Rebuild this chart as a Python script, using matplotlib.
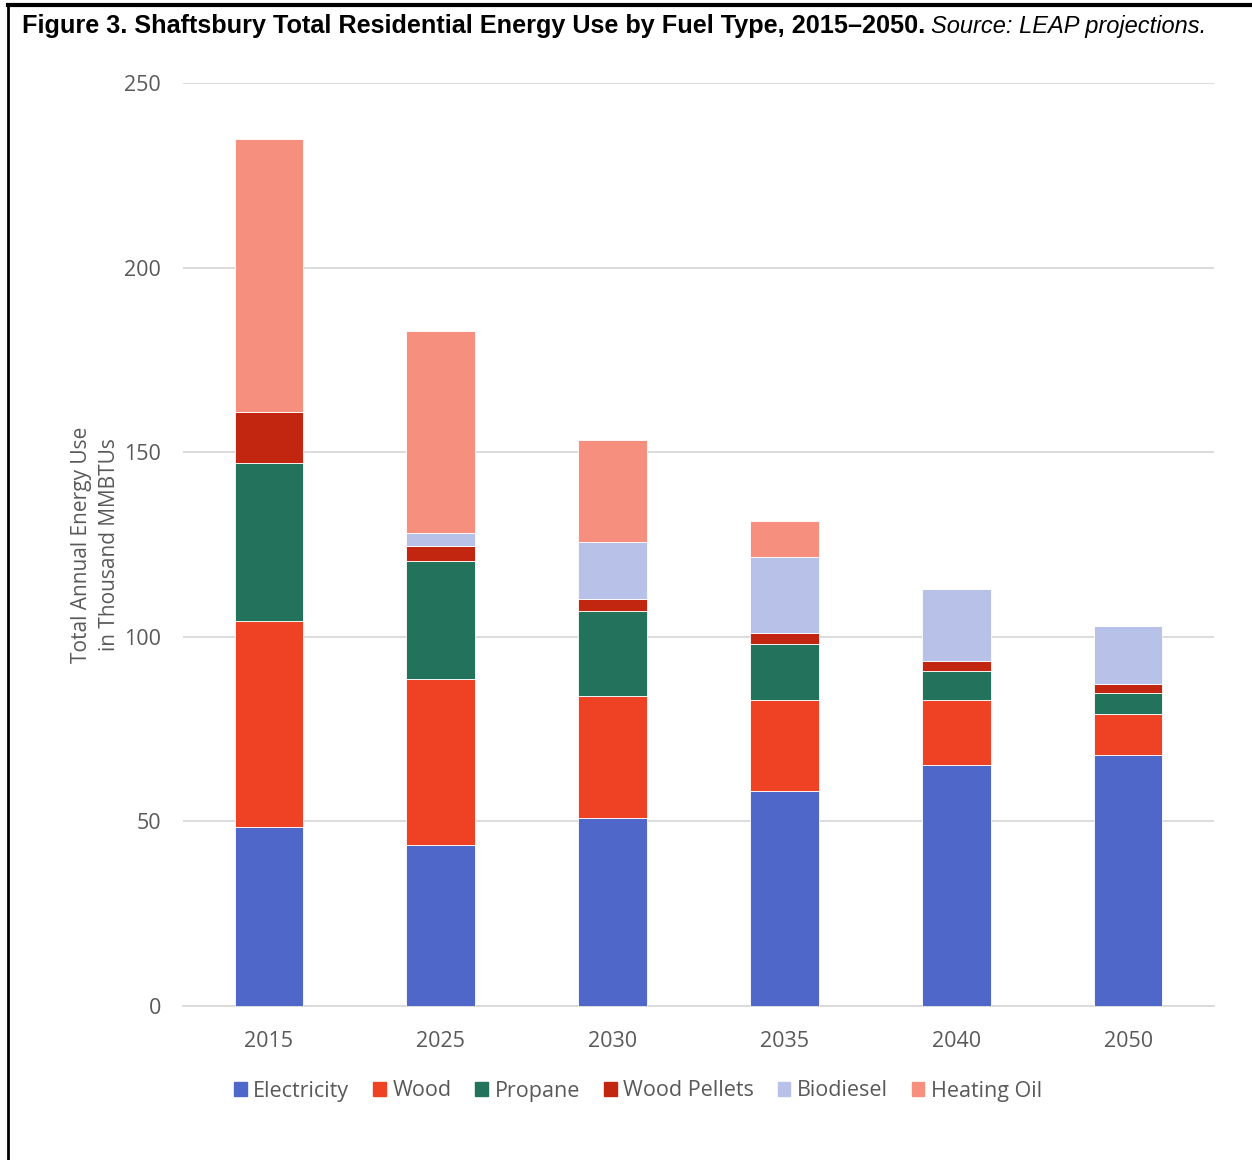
import numpy as np
import matplotlib.pyplot as plt
from matplotlib.lines import Line2D

plt.rcParams['font.family'] = ['Open Sans', 'DejaVu Sans']

years = ['2015', '2025', '2030', '2035', '2040', '2050']
fuels = ['Electricity', 'Wood', 'Propane', 'Wood Pellets', 'Biodiesel', 'Heating Oil']
colors = ['#4f67c9', '#ef4123', '#23735c', '#c22510', '#b8c2e8', '#f78f7e']

electricity = [48.5, 43.6, 50.9, 58.2, 65.3, 68.0]
wood = [55.8, 45.0, 33.1, 24.7, 17.6, 11.1]
propane = [42.8, 31.9, 23.0, 15.1, 7.8, 5.7]
wood_pellets = [13.8, 4.1, 3.2, 3.0, 2.7, 2.4]
biodiesel = [0.0, 3.5, 15.5, 20.6, 19.5, 15.7]
heating_oil = [73.9, 54.7, 27.6, 9.8, 0.0, 0.0]

series = [electricity, wood, propane, wood_pellets, biodiesel, heating_oil]

fig = plt.figure(figsize=(12.52, 11.6), dpi=100)
ax = fig.add_axes([183 / 1252, 1 - 1006 / 1160, (1214 - 183) / 1252, (1006 - 83) / 1160])

x = np.arange(len(years))
bottom = np.zeros(len(years))
for vals, c, name in zip(series, colors, fuels):
    vals = np.array(vals)
    ax.bar(x, vals, 0.4, bottom=bottom, color=c, edgecolor='white', linewidth=0.6,
           label=name, zorder=3)
    bottom += vals

ax.set_xlim(-0.5, 5.5)
ax.set_ylim(0, 250)
ax.set_yticks(np.arange(0, 251, 50))
ax.set_xticks(x)
ax.set_xticklabels(years)
ax.grid(axis='y', color='#d9d9d9', linewidth=1.3, zorder=0)
for s in ['top', 'right', 'left']:
    ax.spines[s].set_visible(False)
ax.spines['bottom'].set_color('#d9d9d9')
ax.spines['bottom'].set_linewidth(1.3)
ax.tick_params(axis='both', length=0, labelsize=15.5, labelcolor='#595959')
ax.tick_params(axis='y', pad=16)
ax.tick_params(axis='x', pad=18)

ax.set_ylabel('Total Annual Energy Use\nin Thousand MMBTUs', fontsize=15, color='#595959',
              labelpad=3, linespacing=1.4)

handles = [plt.Rectangle((0, 0), 1, 1, color=c) for c in colors]
fig.legend(handles, fuels, loc='center', bbox_to_anchor=(638 / 1252, 1 - 1091 / 1160),
           ncol=6, frameon=False, fontsize=15.5, labelcolor='#595959',
           handlelength=0.6, handleheight=0.6, handletextpad=0.3, columnspacing=1.1)

# title: bold part + italic source
t1 = fig.text(22 / 1252, 1 - 26 / 1160, 'Figure 3. Shaftsbury Total Residential Energy Use by Fuel Type, 2015\u20132050.',
              fontsize=18.2, fontweight='bold', va='center', ha='left', color='black',
              family=['Liberation Sans', 'DejaVu Sans'])
fig.canvas.draw()
bb = t1.get_window_extent()
fig.text((bb.x1 + 6) / 1252, 1 - 26 / 1160, 'Source: LEAP projections.', fontsize=17,
         fontstyle='italic', va='center', ha='left', color='black',
         family=['Liberation Sans', 'DejaVu Sans'])

# frame around the figure (left and top edges)
fig.add_artist(Line2D([8 / 1252, 8 / 1252], [0, 1 - 5 / 1160], color='black', lw=2,
                      transform=fig.transFigure))
fig.add_artist(Line2D([8 / 1252, 1], [1 - 5 / 1160, 1 - 5 / 1160], color='black', lw=3,
                      transform=fig.transFigure))

fig.savefig('out.png', dpi=100)
